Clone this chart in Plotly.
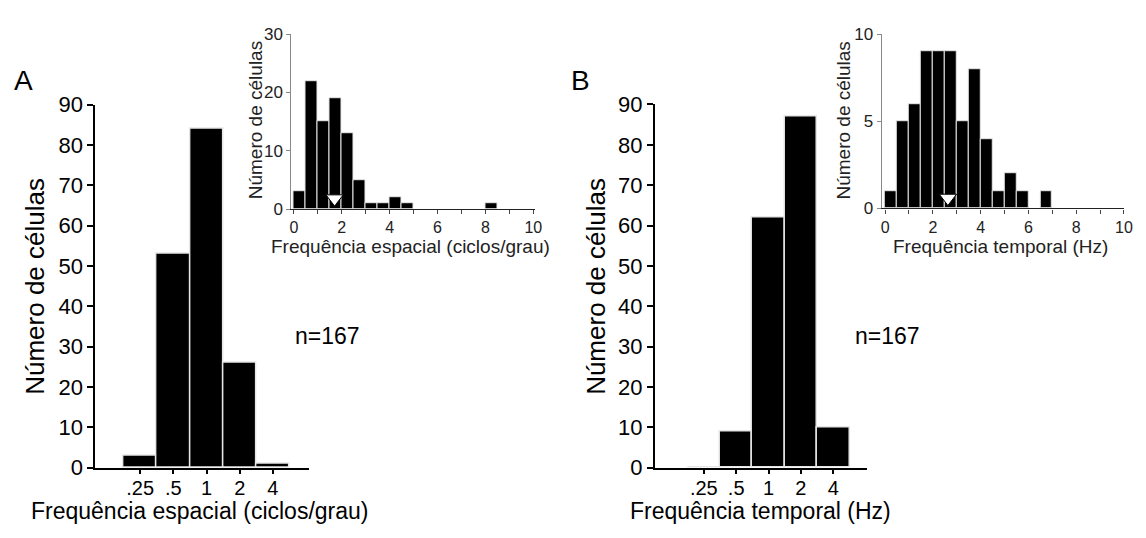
import plotly.graph_objects as go

W, H = 1146, 538
FONT = "Liberation Sans, Arial, Helvetica, sans-serif"

# ---- data ----
main_tick_labels = [".25", ".5", "1", "2", "4"]
main_pos = [-2, -1, 0, 1, 2]          # log2 position of each octave bin
spatial_counts = [3, 53, 84, 26, 1]
temporal_counts = [0, 9, 62, 87, 10]

inset_sf_centers = [0.25, 0.75, 1.25, 1.75, 2.25, 2.75, 3.25, 3.75, 4.25, 4.75, 8.25]
inset_sf_counts = [3, 22, 15, 19, 13, 5, 1, 1, 2, 1, 1]
inset_tf_centers = [0.25, 0.75, 1.25, 1.75, 2.25, 2.75, 3.25, 3.75, 4.25, 4.75, 5.25, 5.75, 6.75]
inset_tf_counts = [1, 5, 6, 9, 9, 9, 5, 8, 4, 1, 2, 1, 1]
sf_mean = 1.7
tf_mean = 2.63


def px(x):
    return x / W


def py(y):
    return 1 - y / H


fig = go.Figure()

bar_line = dict(color="#e6e6e6", width=1.5)

fig.add_trace(go.Bar(x=main_pos, y=spatial_counts, width=1, marker=dict(color="black", line=bar_line),
                     xaxis="x", yaxis="y", showlegend=False))
fig.add_trace(go.Bar(x=main_pos, y=temporal_counts, width=1, marker=dict(color="black", line=bar_line),
                     xaxis="x2", yaxis="y2", showlegend=False))
fig.add_trace(go.Bar(x=inset_sf_centers, y=inset_sf_counts, width=0.5, marker=dict(color="black", line=dict(color="#e6e6e6", width=1)),
                     xaxis="x3", yaxis="y3", showlegend=False))
fig.add_trace(go.Bar(x=inset_tf_centers, y=inset_tf_counts, width=0.5, marker=dict(color="black", line=dict(color="#e6e6e6", width=1)),
                     xaxis="x4", yaxis="y4", showlegend=False))
fig.add_trace(go.Scatter(x=[sf_mean], y=[1.8], mode="markers",
                         marker=dict(symbol="triangle-down", size=15, color="white", line=dict(color="black", width=1)),
                         xaxis="x3", yaxis="y3", showlegend=False))
fig.add_trace(go.Scatter(x=[tf_mean], y=[0.6], mode="markers",
                         marker=dict(symbol="triangle-down", size=15, color="white", line=dict(color="black", width=1)),
                         xaxis="x4", yaxis="y4", showlegend=False))

main_x_common = dict(tickmode="array", tickvals=main_pos, ticktext=main_tick_labels,
                     showline=True, linecolor="black", linewidth=2, ticks="outside", ticklen=4,
                     tickwidth=1.5, tickcolor="black", showgrid=False, zeroline=False,
                     ticklabelstandoff=-3,
                     tickfont=dict(family=FONT, size=20, color="black"))
main_y_common = dict(range=[0, 90], tickmode="linear", tick0=0, dtick=10,
                     showline=True, linecolor="black", linewidth=2, ticks="outside", ticklen=6,
                     tickwidth=1.5, tickcolor="black", showgrid=False, zeroline=False,
                     tickfont=dict(family=FONT, size=22, color="black"))

inset_x_common = dict(range=[-0.1, 10.05], tickmode="linear", tick0=0, dtick=2,
                      showline=True, linecolor="#222", linewidth=1.2, ticks="outside", ticklen=4,
                      tickwidth=1, tickcolor="#444", showgrid=False, zeroline=False,
                      minor=dict(dtick=1, ticks="outside", ticklen=4, tickcolor="#444", tickwidth=1),
                      tickfont=dict(family=FONT, size=16, color="#222"))
inset_y_common = dict(showline=True, linecolor="#888", linewidth=1.2, ticks="outside", ticklen=4,
                      tickwidth=1, tickcolor="#888", showgrid=False, zeroline=False,
                      tickfont=dict(family=FONT, size=17, color="#222"))

fig.update_layout(
    width=W, height=H,
    margin=dict(l=0, r=0, t=0, b=0),
    paper_bgcolor="white", plot_bgcolor="white",
    bargap=0,
    xaxis=dict(domain=[px(94.3), px(310)], range=[-3.35, 3.09], anchor="y", **main_x_common),
    yaxis=dict(domain=[py(478), py(97.3)], anchor="x", **main_y_common),
    xaxis2=dict(domain=[px(659.3), px(873)], range=[-3.51, 3.03], anchor="y2", **main_x_common),
    yaxis2=dict(domain=[py(478), py(97.0)], anchor="x2", **main_y_common),
    xaxis3=dict(domain=[px(292.3), px(537.7)], anchor="y3", **inset_x_common),
    yaxis3=dict(domain=[py(206.7), py(23.3)], range=[0, 30], tickmode="linear", tick0=0, dtick=10,
                anchor="x3", **inset_y_common),
    xaxis4=dict(domain=[px(888.3), px(1133)], anchor="y4", **{**inset_x_common, "range": [-0.14, 10.01]}),
    yaxis4=dict(domain=[py(206), py(23.3)], range=[0, 10], tickmode="linear", tick0=0, dtick=5,
                anchor="x4", **inset_y_common),
)


def ann(text, x, y, size, xanchor="center", yanchor="middle", angle=0, color="black"):
    fig.add_annotation(text=text, x=px(x), y=py(y), xref="paper", yref="paper",
                       xanchor=xanchor, yanchor=yanchor, textangle=angle, showarrow=False,
                       borderpad=0, font=dict(family=FONT, size=size, color=color))


ann("A", 11, 72, 28, xanchor="left")
ann("B", 574, 72, 28, xanchor="left")
ann("Número de células", 32.5, 288, 26, angle=-90)
ann("Número de células", 599, 288, 26, angle=-90)
ann("Frequência espacial (ciclos/grau)", 200, 538, 23, yanchor="bottom")
ann("Frequência temporal (Hz)", 766, 538, 23, yanchor="bottom")
ann("n=167", 295, 340, 23, xanchor="left")
ann("n=167", 860, 340, 23, xanchor="left")
ann("Número de células", 256, 114, 19, angle=-90, color="#222")
ann("Número de células", 850, 114, 19, angle=-90, color="#222")
ann("Frequência espacial (ciclos/grau)", 412, 246, 19, color="#222")
ann("Frequência temporal (Hz)", 1008, 246, 19, color="#222")

fig.write_html("out.html")
